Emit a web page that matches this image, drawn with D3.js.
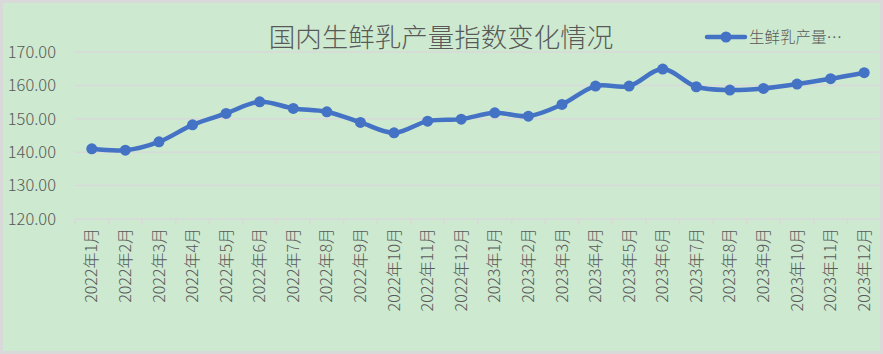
<!DOCTYPE html>
<html>
<head>
<meta charset="utf-8">
<script src="https://cdn.jsdelivr.net/npm/d3@7"></script>
<style>
  body { margin: 0; background: #fff; }
  text { font-family: "Noto Sans CJK SC", "Noto Sans", sans-serif; font-weight: 300; }
</style>
</head>
<body>
<svg class="chart"></svg>
<script>
const months = ['2022年1月','2022年2月','2022年3月','2022年4月','2022年5月','2022年6月',
  '2022年7月','2022年8月','2022年9月','2022年10月','2022年11月','2022年12月',
  '2023年1月','2023年2月','2023年3月','2023年4月','2023年5月','2023年6月',
  '2023年7月','2023年8月','2023年9月','2023年10月','2023年11月','2023年12月']
const milkIndex = [141.0, 140.6, 143.1, 148.2, 151.6, 155.1, 153.1, 152.1, 148.9, 145.8, 149.3, 149.9,
  151.8, 150.8, 154.3, 159.8, 159.8, 164.9, 159.6, 158.6, 159.1, 160.4, 162.0, 163.8]
const yTicks = [120, 130, 140, 150, 160, 170]

function draw(){
    const width = 883, height = 354
    const svg = d3.select('.chart')
      .attr('width', width)
      .attr('height', height)

    // background + border
    svg.append('rect')
      .attr('x', 1.5).attr('y', 1.5)
      .attr('width', width - 3).attr('height', height - 3)
      .attr('fill', '#cde9d0')
      .attr('stroke', '#d9d9d9')
      .attr('stroke-width', 3)

    const margin = {top: 52, right: 2, bottom: 135, left: 75}

    const xScale = d3.scaleBand()
      .domain(months)
      .range([margin.left, width - margin.right])

    const yScale = d3.scaleLinear()
      .domain([120, 170])
      .range([height - margin.bottom, margin.top])

    // gridlines
    svg.append('g')
      .selectAll('line')
      .data(yTicks)
      .enter().append('line')
      .attr('x1', margin.left)
      .attr('x2', width - margin.right - 2)
      .attr('y1', d => yScale(d))
      .attr('y2', d => yScale(d))
      .attr('stroke', '#d9d9d9')
      .attr('stroke-width', 1.5)

    // y labels
    svg.append('g')
      .selectAll('text')
      .data(yTicks)
      .enter().append('text')
      .attr('x', 56)
      .attr('y', d => yScale(d))
      .attr('dy', '0.35em')
      .attr('text-anchor', 'end')
      .attr('fill', '#595959')
      .attr('font-size', 16.5)
      .text(d => d3.format('.2f')(d))

    // x axis ticks + labels
    const xAxis = d3.axisBottom(xScale).tickSize(0).tickPadding(0)
    const xAxisG = svg.append('g')
      .attr('transform', `translate(0, ${yScale(120)})`)
      .call(xAxis)
    xAxisG.select('.domain').remove()
    xAxisG.selectAll('text')
      .attr('transform', 'rotate(-90)')
      .attr('x', -9)
      .attr('y', 0)
      .attr('dy', '0.35em')
      .attr('text-anchor', 'end')
      .attr('fill', '#595959')
      .attr('font-size', 16)
      .attr('font-weight', 300)
      .attr('font-family', '"Noto Sans CJK SC", sans-serif')

    const bounds = months.map(m => xScale(m))
    svg.append('g')
      .selectAll('line')
      .data(bounds)
      .enter().append('line')
      .attr('x1', d => d).attr('x2', d => d)
      .attr('y1', yScale(120)).attr('y2', yScale(120) + 5)
      .attr('stroke', '#d9d9d9')
      .attr('stroke-width', 1.5)

    // line
    const cx = d => xScale(d) + xScale.bandwidth() / 2
    const line = d3.line()
      .x((d, i) => cx(months[i]))
      .y(d => yScale(d))
      .curve(d3.curveCatmullRom.alpha(0.5))

    svg.append('path')
      .datum(milkIndex)
      .attr('d', line)
      .attr('fill', 'none')
      .attr('stroke', '#4472c4')
      .attr('stroke-width', 4.5)
      .attr('stroke-linecap', 'round')

    svg.append('g')
      .selectAll('circle')
      .data(milkIndex)
      .enter().append('circle')
      .attr('cx', (d, i) => cx(months[i]))
      .attr('cy', d => yScale(d))
      .attr('r', 5.5)
      .attr('fill', '#4472c4')

    // title
    svg.append('text')
      .attr('x', 441)
      .attr('y', 38)
      .attr('dy', '0.35em')
      .attr('text-anchor', 'middle')
      .attr('fill', '#595959')
      .attr('font-size', 26.5)
      .text('国内生鲜乳产量指数变化情况')

    // legend
    const lg = svg.append('g')
    lg.append('line')
      .attr('x1', 707).attr('x2', 745)
      .attr('y1', 37).attr('y2', 37)
      .attr('stroke', '#4472c4')
      .attr('stroke-width', 4.5)
      .attr('stroke-linecap', 'round')
    lg.append('circle')
      .attr('cx', 726).attr('cy', 37).attr('r', 5.5)
      .attr('fill', '#4472c4')
    lg.append('text')
      .attr('x', 749)
      .attr('y', 38)
      .attr('dy', '0.35em')
      .attr('fill', '#595959')
      .attr('font-size', 15.5)
      .text('生鲜乳产量…')
}
draw()
</script>
</body>
</html>
